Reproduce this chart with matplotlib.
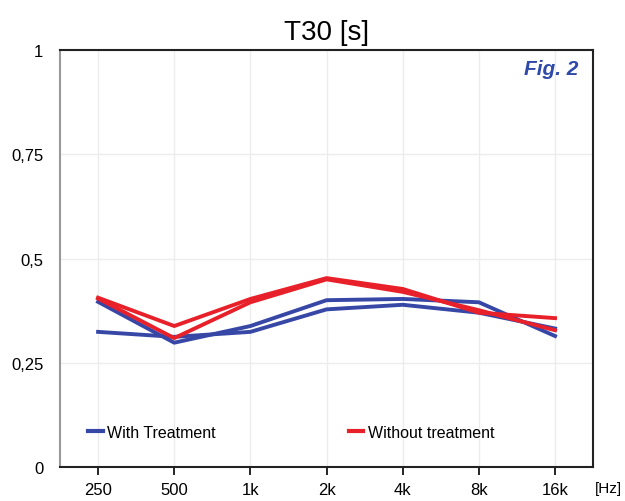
import matplotlib.pyplot as plt
from matplotlib.lines import Line2D

plt.rcParams['font.family'] = ['Liberation Sans', 'DejaVu Sans']

bands = ['250', '500', '1k', '2k', '4k', '8k', '16k']
with_a = [0.396, 0.298, 0.338, 0.400, 0.403, 0.395, 0.314]
with_b = [0.324, 0.312, 0.324, 0.378, 0.389, 0.370, 0.332]
without_a = [0.406, 0.338, 0.403, 0.453, 0.427, 0.370, 0.357]
without_b = [0.404, 0.309, 0.395, 0.450, 0.420, 0.376, 0.328]

blue = '#3747a6'
red = '#e8202a'

fig = plt.figure(figsize=(6.25, 5.02), dpi=100)
ax = fig.add_axes([0.096, 0.068, 0.853, 0.830])

x = range(len(bands))
ax.plot(x, with_b, color=blue, lw=2.8, solid_joinstyle='round')
ax.plot(x, with_a, color=blue, lw=2.8, solid_joinstyle='round')
ax.plot(x, without_b, color=red, lw=2.8, solid_joinstyle='round')
ax.plot(x, without_a, color=red, lw=2.8, solid_joinstyle='round')

ax.set_xlim(-0.5, 6.5)
ax.set_ylim(0, 1)
ax.set_xticks(list(x))
ax.set_xticklabels(bands, fontsize=12)
ax.set_yticks([0, 0.25, 0.5, 0.75, 1])
ax.set_yticklabels(['0', '0,25', '0,5', '0,75', '1'], fontsize=12)
ax.tick_params(axis='y', length=0, pad=12)
ax.tick_params(axis='x', length=6, width=1.2, pad=5)
ax.grid(True, color='#ececec', lw=1)
ax.set_axisbelow(True)

for s in ['top', 'right', 'bottom']:
    ax.spines[s].set_color('#222222')
    ax.spines[s].set_linewidth(1.5)
ax.spines['left'].set_color('#999999')
ax.spines['left'].set_linewidth(1.5)

ax.set_title('T30 [s]', fontsize=20, pad=8)
ax.text(0.972, 0.955, 'Fig. 2', transform=ax.transAxes, ha='right', va='center',
        fontsize=15, fontweight='bold', fontstyle='italic', color='#2f4aa8')
ax.text(1.003, -0.05, '[Hz]', transform=ax.transAxes, ha='left', va='center', fontsize=11)

handles = [Line2D([], [], color=blue, lw=3), Line2D([], [], color=red, lw=3)]
ax.legend(handles, ['With Treatment', 'Without treatment'], ncol=2, frameon=False,
          loc='center left', bbox_to_anchor=(0.026, 0.083), fontsize=11.5,
          handlelength=0.9, handletextpad=0.3, columnspacing=8.3)

fig.savefig('out.png', dpi=100)
